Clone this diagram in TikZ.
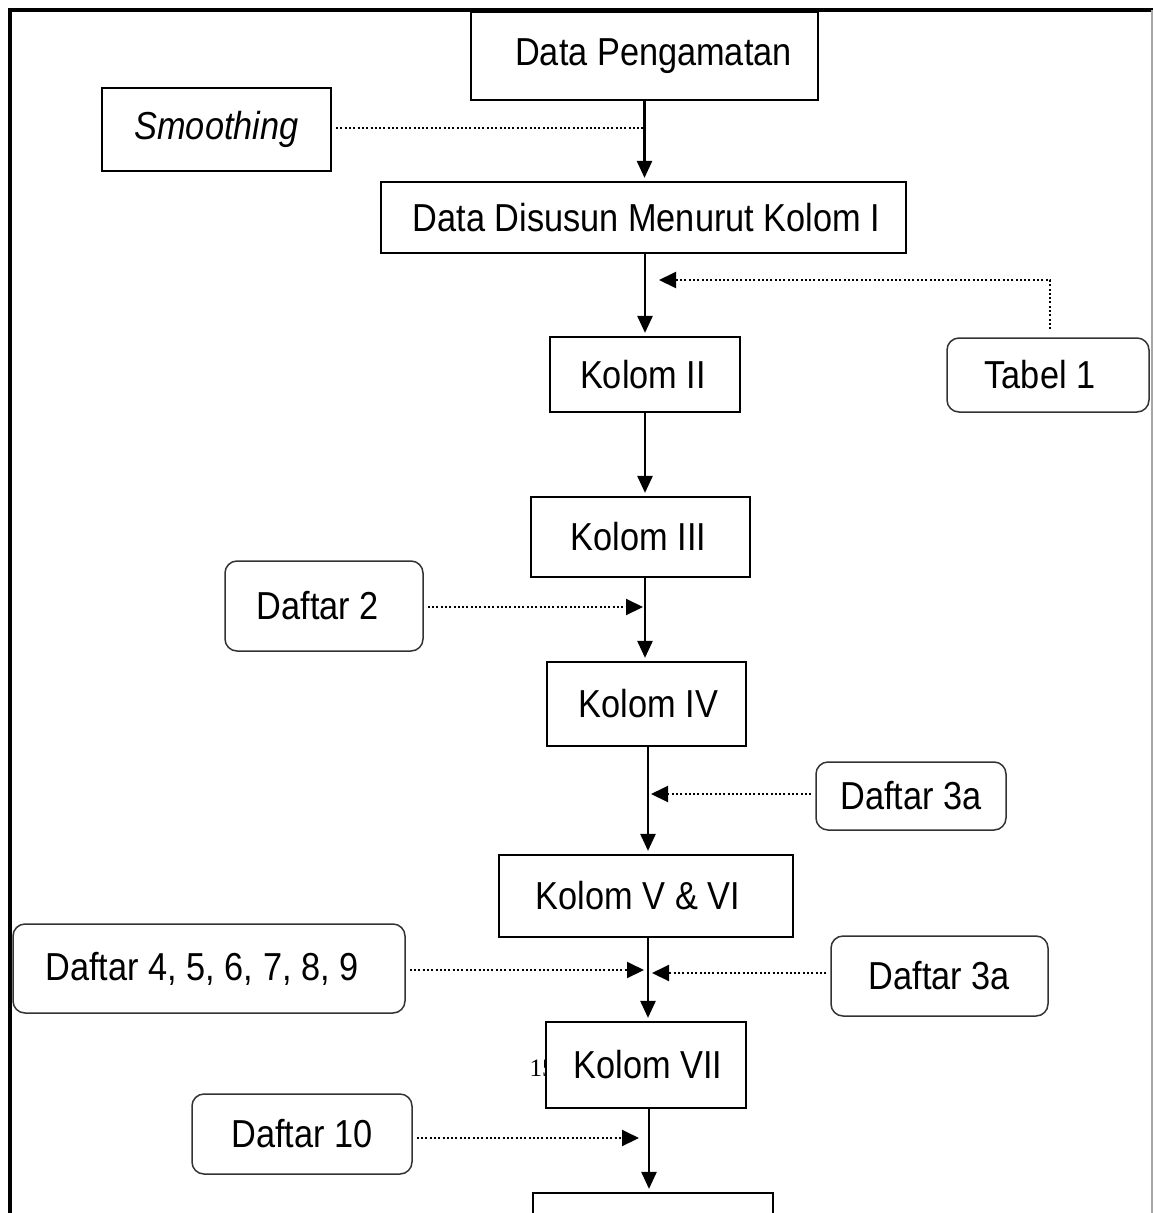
\documentclass[tikz,border=0pt]{standalone}
\usepackage{fontspec}
\setmainfont[FakeStretch=0.88]{Liberation Sans}
\newfontfamily\pgserif{Liberation Serif}
\usetikzlibrary{arrows.meta}
\newcommand{\rs}[1]{\hspace*{#1pt}}
\begin{document}
\begin{tikzpicture}[x=1pt,y=-1pt,
  box/.style={draw=black, line width=2.2pt, fill=white, inner sep=0pt,
    font=\fontsize{39}{45}\selectfont},
  rbox/.style={box, rounded corners=12pt, line width=1.5pt, draw=black!80},
  flow/.style={line width=2.5pt, -{Triangle[length=17pt,width=15pt]}, shorten >=3pt},
  dot/.style={line width=2pt, dash pattern=on 2pt off 2.3pt},
  dotarr/.style={dot, -{Triangle[length=17pt,width=16pt]}, shorten <=4pt}]
\useasboundingbox (0,0) rectangle (1153,1213);
\fill[white] (0,0) rectangle (1153,1213);

% page number partly hidden behind Kolom VII
\node[font=\pgserif\fontsize{25}{27}\selectfont, inner sep=0pt] (pg) at (542,1068) {15};

% boxes
\node[box, minimum width=347pt, minimum height=88pt] (dp) at (644.5,56) {\raisebox{4pt}{\rs{18}Data Pengamatan}};
\node[box, minimum width=229pt, minimum height=83pt, font=\fontsize{39}{45}\selectfont\itshape] (sm) at (216.5,129.5) {Smoothing};
\node[box, minimum width=525pt, minimum height=71pt] (dd) at (643.5,217.5) {\rs{6}Data Disusun Menurut Kolom I};
\node[box, minimum width=190pt, minimum height=75pt] (k2) at (645,374.5) {Kolom II\rs{4}};
\node[rbox, minimum width=202pt, minimum height=74pt] (t1) at (1048,375) {Tabel 1\rs{16}};
\node[box, minimum width=219pt, minimum height=80pt] (k3) at (640.5,537) {Kolom III\rs{4}};
\node[rbox, minimum width=198pt, minimum height=90pt] (d2) at (324,606) {Daftar 2\rs{12}};
\node[box, minimum width=199pt, minimum height=84pt] (k4) at (646.5,704) {\rs{4}Kolom IV};
\node[rbox, minimum width=190pt, minimum height=68pt] (d3a) at (911,796) {Daftar 3a};
\node[box, minimum width=294pt, minimum height=82pt] (k56) at (646,896) {Kolom V \& VI\rs{16}};
\node[rbox, minimum width=392pt, minimum height=89pt] (d49) at (209,968.5) {Daftar 4, 5, 6, 7, 8, 9\rs{14}};
\node[rbox, minimum width=217pt, minimum height=80pt] (d3b) at (939.5,976) {Daftar 3a};
\node[box, minimum width=200pt, minimum height=86pt] (k7) at (646,1065) {\rs{4}Kolom VII};
\node[rbox, minimum width=220pt, minimum height=80pt] (d10) at (302,1134) {Daftar 10};
\node[box, minimum width=240pt, minimum height=100pt] (kb) at (653,1243) {};

% main flow
\draw[flow] (dp.south) -- (dp.south |- dd.north);
\draw[flow] (dd.south -| k2.north) -- (k2.north);
\draw[flow] (k2.south) -- (k2.south |- k3.north);
\draw[flow] (k3.south -| k2.south) -- (k2.south |- k4.north);
\draw[flow] ([xshift=1.5pt]k4.south) -- ([xshift=1.5pt]k4.south |- k56.north);
\draw[flow] ([xshift=2pt]k56.south) -- ([xshift=2pt]k56.south |- k7.north);
\draw[flow] ([xshift=3pt]k7.south) -- ([xshift=3pt]k7.south |- kb.north);

% dotted inputs
\coordinate (tj) at (645,280);
\draw[dot] ([xshift=4pt,yshift=2pt]sm.east) -- ([yshift=2pt]sm.east -| dp.south);
\draw[dotarr, shorten <=8pt] ([xshift=2pt]t1.north) |- ([xshift=14pt]tj);
\draw[dotarr, shorten >=2pt] ([yshift=-1pt]d2.east) -- ([yshift=-1pt]d2.east -| k2.south);
\draw[dotarr, shorten >=5pt] ([yshift=2pt]d3a.west) -- ([yshift=2pt]d3a.west -| k56.south);
\draw[dotarr, shorten >=2pt] ([yshift=-1.5pt]d49.east) -- ([yshift=-1.5pt]d49.east -| k56.south);
\draw[dotarr, shorten >=6pt] ([yshift=3pt]d3b.west) -- ([yshift=3pt]d3b.west -| k56.south);
\draw[dotarr, shorten >=7pt] ([yshift=-4pt]d10.east) -- ([yshift=-4pt]d10.east -| k7.south);

% page frame
\draw[line width=4.5pt] (10,1215) -- (10,10) -- (1155,10);
\draw[black!35, line width=1.5pt] (1152,10) -- (1152,1215);
\end{tikzpicture}
\end{document}
